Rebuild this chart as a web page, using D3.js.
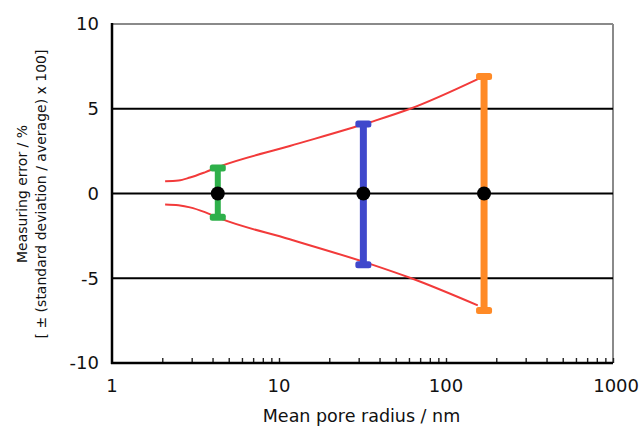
<!DOCTYPE html>
<html>
<head>
<meta charset="utf-8">
<script src="https://cdn.jsdelivr.net/npm/d3@7"></script>
<style>
  body { margin: 0; background: #fff; }
  svg text { font-family: "DejaVu Sans", Verdana, sans-serif; fill: #111; }
</style>
</head>
<body>
<svg id="chart" width="640" height="432"></svg>
<script>
// data
const radii = [4.3, 32, 169];                 // mean pore radius, nm
const errTop = [1.5, 4.1, 6.9];
const errBottom = [-1.4, -4.2, -6.9];
const barColors = ["#2eb04a", "#3f48cc", "#ff8a26"];

const upperCurveX = [2.08, 2.5, 2.93, 3.6, 4.43, 11.6, 35, 61, 155];
const upperCurveY = [0.72, 0.76, 0.94, 1.25, 1.6, 2.8, 4.2, 5.0, 6.75];
const lowerCurveX = [2.08, 2.5, 2.93, 3.6, 4.43, 11.6, 35, 62, 155];
const lowerCurveY = [-0.65, -0.7, -0.82, -1.1, -1.47, -2.7, -4.15, -5.0, -6.6];

const xTicks = [1, 10, 100, 1000];
const yTicks = [-10, -5, 0, 5, 10];
const gridValues = [-5, 0, 5];

const svg = d3.select("#chart");
const plotLeft = 112, plotRight = 613, plotTop = 24, plotBottom = 363;

const x = d3.scaleLog().domain([1, 1000]).range([plotLeft, plotRight]);
const y = d3.scaleLinear().domain([-10, 10]).range([plotBottom, plotTop]);

// frame: grey top/right, black left/bottom
svg.append("line").attr("x1", plotLeft).attr("x2", plotRight).attr("y1", plotTop).attr("y2", plotTop)
  .attr("stroke", "#8a8a8a").attr("stroke-width", 2);
svg.append("line").attr("x1", plotRight).attr("x2", plotRight).attr("y1", plotTop).attr("y2", plotBottom)
  .attr("stroke", "#8a8a8a").attr("stroke-width", 2);

// horizontal grid lines
svg.selectAll("line.grid").data(gridValues).enter().append("line")
  .attr("class", "grid")
  .attr("x1", plotLeft).attr("x2", plotRight)
  .attr("y1", d => y(d)).attr("y2", d => y(d))
  .attr("stroke", "#000").attr("stroke-width", 2);

// x axis with minor log ticks
const minor = [];
for (let dec = 1; dec < 1000; dec *= 10) {
  for (let k = 2; k <= 10; k++) minor.push(dec * k);
}
const xAxis = d3.axisBottom(x).tickValues(minor).tickSize(-5).tickFormat("");
const gx = svg.append("g").attr("transform", `translate(0,${plotBottom})`).call(xAxis);
gx.select(".domain").remove();
gx.selectAll(".tick line").attr("stroke", "#222").attr("stroke-width", 1.4);

svg.append("line").attr("x1", plotLeft - 1).attr("x2", plotRight).attr("y1", plotBottom).attr("y2", plotBottom)
  .attr("stroke", "#000").attr("stroke-width", 2.5);
svg.append("line").attr("x1", plotLeft).attr("x2", plotLeft).attr("y1", plotTop - 1).attr("y2", plotBottom + 1)
  .attr("stroke", "#000").attr("stroke-width", 2.5);

svg.selectAll("text.xt").data(xTicks).enter().append("text")
  .attr("class", "xt")
  .attr("x", d => x(d)).attr("y", plotBottom + 29)
  .attr("text-anchor", d => d === 1000 ? "end" : "middle")
  .attr("dx", d => d === 1000 ? 26 : 0)
  .style("font-size", "18px")
  .text(d => d);

svg.selectAll("text.yt").data(yTicks).enter().append("text")
  .attr("class", "yt")
  .attr("x", plotLeft - 13).attr("y", d => y(d))
  .attr("dy", "0.36em")
  .attr("text-anchor", "end")
  .style("font-size", "18px")
  .text(d => d);

// axis titles
svg.append("text").attr("x", (plotLeft + plotRight) / 2 - 1).attr("y", 422)
  .attr("text-anchor", "middle").style("font-size", "17.5px")
  .text("Mean pore radius / nm");

const yt = svg.append("text")
  .attr("transform", "translate(27,194) rotate(-90)")
  .attr("text-anchor", "middle").style("font-size", "14px");
yt.append("tspan").attr("x", 0).attr("y", 0).text("Measuring error / %");
yt.append("tspan").attr("x", 0).attr("y", 18.5).text("[ \u00b1 (standard deviation / average) x 100]");

// red envelope curves
const line = d3.line().x(d => x(d[0])).y(d => y(d[1])).curve(d3.curveMonotoneX);
svg.append("path").datum(d3.zip(upperCurveX, upperCurveY))
  .attr("d", line).attr("fill", "none").attr("stroke", "#f23a3a").attr("stroke-width", 2);
svg.append("path").datum(d3.zip(lowerCurveX, lowerCurveY))
  .attr("d", line).attr("fill", "none").attr("stroke", "#f23a3a").attr("stroke-width", 2);

// error bars
const bars = radii.map((r, i) => ({ r, hi: errTop[i], lo: errBottom[i], c: barColors[i], w: i === 0 ? 6 : 7 }));
const gb = svg.selectAll("g.bar").data(bars).enter().append("g").attr("class", "bar");
gb.append("line")
  .attr("x1", d => x(d.r)).attr("x2", d => x(d.r))
  .attr("y1", d => y(d.hi)).attr("y2", d => y(d.lo))
  .attr("stroke", d => d.c).attr("stroke-width", d => d.w);
gb.selectAll("rect.cap").data(d => [[d, d.hi], [d, d.lo]]).enter().append("rect")
  .attr("class", "cap")
  .attr("x", d => x(d[0].r) - 8).attr("y", d => y(d[1]) - 3.5)
  .attr("width", 16).attr("height", 7).attr("rx", 2.5)
  .attr("fill", d => d[0].c);

// mean points
svg.selectAll("circle.pt").data(radii).enter().append("circle")
  .attr("class", "pt")
  .attr("cx", d => x(d)).attr("cy", y(0)).attr("r", 7)
  .attr("fill", "#000");
</script>
</body>
</html>
